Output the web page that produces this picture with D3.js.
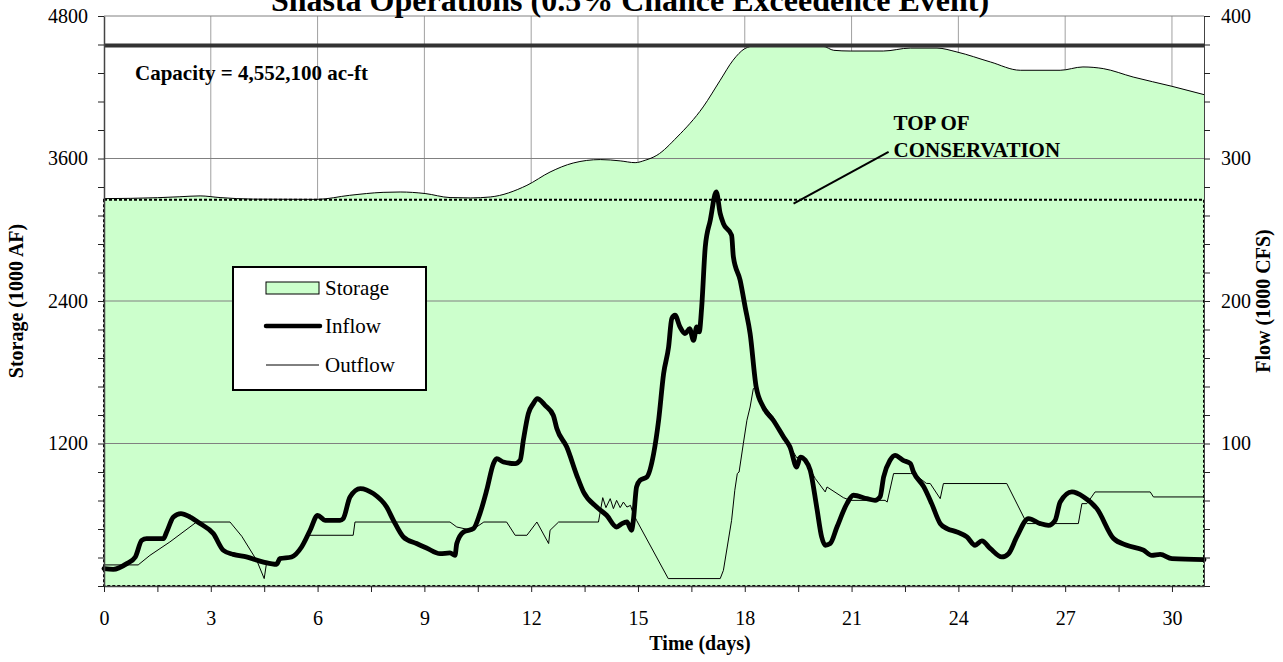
<!DOCTYPE html>
<html><head><meta charset="utf-8">
<script src="https://cdn.jsdelivr.net/npm/d3@7"></script>
<style>
body{margin:0;background:#fff;}
svg{display:block;font-family:"Liberation Serif","Times New Roman",serif;}
</style></head><body>
<svg id="chart" width="1283" height="662"></svg>
<script>
// ---------- DATA ----------
const titleText = "Shasta Operations (0.5% Chance Exceedence Event)";
const capacity = 4552.1;            // 1000 AF
const topOfConservation = 3252.8;   // 1000 AF

const storageDays   = [0,1.5,2.13,2.7,3.26,4.2,5.98,6.9,7.84,8.32,9.02,9.72,10.3,10.85,11.88,12.53,13.18,13.94,14.5,14.92,15.2,15.53,16.1,16.83,17.31,17.67,18.0,18.3,19.0,20.2,20.5,20.96,21.89,22.65,23.4,23.96,24.9,25.74,26.86,27.5,28.07,28.91,30.0,30.9];
const storageValues = [3262,3270,3278,3285,3271,3258,3256,3290,3315,3318,3305,3271,3268,3276,3374,3486,3562,3591,3580,3565,3585,3627,3781,4034,4259,4427,4525,4550,4552,4545,4511,4505,4505,4530,4530,4497,4413,4343,4343,4371,4357,4286,4208,4138];

const inflowDays   = [0,0.26,0.64,0.88,1.06,1.2,1.67,1.76,1.95,2.16,2.42,2.7,3.07,3.35,3.63,4.0,4.48,4.85,4.94,5.27,5.55,5.79,6.0,6.21,6.63,6.72,6.91,7.2,7.57,7.94,8.13,8.41,8.78,9.06,9.44,9.72,9.86,9.91,10.1,10.38,10.56,10.75,10.94,11.03,11.22,11.55,11.69,11.78,11.92,12.06,12.17,12.39,12.62,12.72,13.0,13.28,13.47,13.84,14.12,14.4,14.55,14.69,14.82,14.87,14.96,15.06,15.25,15.44,15.58,15.72,15.86,15.95,16.04,16.18,16.32,16.45,16.56,16.65,16.72,16.79,16.89,17.03,17.2,17.31,17.4,17.63,17.68,17.87,18.01,18.15,18.32,18.52,18.8,19.09,19.27,19.46,19.56,19.7,19.84,20.02,20.16,20.26,20.4,20.59,20.87,21.05,21.43,21.66,21.8,21.9,22.08,22.22,22.45,22.65,22.74,23.03,23.25,23.49,23.68,23.96,24.24,24.47,24.66,24.9,25.22,25.41,25.64,25.97,26.3,26.53,26.72,26.86,27.19,27.52,27.89,28.36,28.73,29.2,29.43,29.67,30.0,30.9];
const inflowValues = [12.2,11.7,15.7,20.4,32,33.3,33.3,37.9,48.4,50.8,48.4,43.8,36.8,25.1,22.2,20.4,16.8,15.2,19.2,20.4,27.4,39.1,49.6,46.1,46.1,47.3,62.5,68.4,64.8,55.4,46.1,34.4,29.8,26.7,22.7,23.2,21.5,29.8,37.9,40.3,50.8,67.2,85.9,89.4,87,85.9,88.2,102.3,121,128,131.5,126.8,119.8,110.5,97.5,77.7,66,55.4,49.6,41.4,43.8,44.9,39.1,46.1,69.5,74.2,76.5,92.9,116.3,149,167.7,187.7,190,181.8,177.1,180.6,172.4,181.8,178.3,195.8,237.9,256.6,276.5,261.3,254.3,246.1,230.9,214.5,195.8,177.1,139.7,125.6,116.3,104.6,97.5,83.5,90.5,88.2,81.2,55.4,34.4,28.6,29.8,41.4,57.8,63.7,61.3,60.1,62.5,76.5,88.2,91.7,88.2,85.9,80,69.5,57.8,43.8,40.3,37.9,34.4,28.6,31.6,26.2,20.4,22.7,34.4,47.3,43.8,42.6,46.1,58.9,66,62.5,54.3,33.3,28.6,25.1,21.5,22.2,19.2,18.5];

const outflowDays   = [0,0.96,1.29,1.85,2.6,3.54,3.87,4.29,4.5,4.57,4.85,4.94,5.27,5.55,5.72,7.0,7.05,9.72,9.91,10.2,10.4,10.67,11.31,11.55,11.88,12.16,12.49,12.53,12.77,13.89,14.01,14.1,14.22,14.31,14.4,14.5,14.59,14.69,14.79,14.85,14.96,15.85,17.31,17.4,17.63,17.72,17.79,17.84,17.96,18.06,18.15,18.24,18.32,18.52,18.8,19.09,19.27,19.46,19.56,19.7,19.84,19.98,20.26,20.31,20.77,20.96,21.94,22.0,22.18,22.65,22.75,23.1,23.21,23.49,23.58,25.36,25.88,25.93,27.37,27.47,27.61,27.84,29.39,29.48,30.9];
const outflowValues = [14.8,14.8,21.5,30.9,44.9,44.9,34.9,18,5.2,16.8,15.2,19.2,20.4,27.4,35.6,35.6,44.9,44.9,41.4,39.8,40.3,44.9,44.9,35.6,35.6,44.9,29.8,39.1,44.9,44.9,62,55,61.3,54.3,60.1,55,58.9,55.4,56.6,51.9,46.1,5.2,5.2,11,46.1,67.2,78.9,80,100,116.3,125.6,138.5,139.7,127,118.6,105,98,90,91,88.5,82,75.4,66,69.5,62,60.1,60.1,58.9,78.9,78.9,78.9,72,71.9,61.3,71.9,71.9,46.1,43.8,43.8,57.8,57.8,66,66,62.5,62.5];

const storageTicks = d3.range(0, 4801, 240);
const storageLabels = [1200, 2400, 3600, 4800];
const flowTicks = d3.range(0, 401, 20);
const flowLabels = [100, 200, 300, 400];
const dayTicks = d3.range(0, 30.01, 1.5);
const dayLabels = [0,3,6,9,12,15,18,21,24,27,30];
const legendItems = ["Storage", "Inflow", "Outflow"];

// ---------- LAYOUT ----------
const L = 104, R = 1204, T = 16, B = 586;
const svg = d3.select("#chart");
const x = d3.scaleLinear().domain([0, 30.9]).range([L, R]);
const yS = d3.scaleLinear().domain([0, 4800]).range([B, T]);
const yF = d3.scaleLinear().domain([0, 400]).range([B, T]);
const green = "#CCFFCC";
const serif = "Liberation Serif";

// background
svg.append("rect").attr("x", L).attr("y", T).attr("width", R - L).attr("height", B - T).attr("fill", "#fff");

// vertical grid
svg.append("g").selectAll("line").data(dayLabels.filter(d => d > 0)).join("line")
  .attr("x1", d => x(d)).attr("x2", d => x(d)).attr("y1", T).attr("y2", B)
  .attr("stroke", "#a0a0a0").attr("stroke-width", 1);

// storage area
const storageData = storageDays.map((d, i) => [d, storageValues[i]]);
svg.append("path").datum(storageData)
  .attr("d", d3.area().x(d => x(d[0])).y0(yS(0)).y1(d => yS(d[1])).curve(d3.curveMonotoneX))
  .attr("fill", green);

// conservation area fill
svg.append("rect").attr("x", x(0)).attr("y", yS(topOfConservation))
  .attr("width", x(30.9) - x(0)).attr("height", yS(0) - yS(topOfConservation)).attr("fill", green);

// horizontal grid
svg.append("g").selectAll("line").data([1200, 2400, 3600, 4800]).join("line")
  .attr("x1", L).attr("x2", R).attr("y1", d => yS(d)).attr("y2", d => yS(d))
  .attr("stroke", "#808080").attr("stroke-width", 1);

// storage line
svg.append("path").datum(storageData)
  .attr("d", d3.line().x(d => x(d[0])).y(d => yS(d[1])).curve(d3.curveMonotoneX))
  .attr("fill", "none").attr("stroke", "#000").attr("stroke-width", 1);

// conservation dashed border
svg.append("rect").attr("x", x(0)).attr("y", yS(topOfConservation))
  .attr("width", x(30.9) - x(0)).attr("height", yS(0) - yS(topOfConservation))
  .attr("fill", "none").attr("stroke", "#000").attr("stroke-width", 2).attr("stroke-dasharray", "3,2");

// capacity line
svg.append("line").attr("x1", x(0)).attr("x2", x(30.9)).attr("y1", yS(capacity)).attr("y2", yS(capacity))
  .attr("stroke", "#333").attr("stroke-width", 4);

// outflow & inflow
const outData = outflowDays.map((d, i) => [d, outflowValues[i]]);
const inData = inflowDays.map((d, i) => [d, inflowValues[i]]);
const lineF = d3.line().x(d => x(d[0])).y(d => yF(d[1]));
svg.append("path").datum(outData).attr("d", lineF).attr("fill", "none").attr("stroke", "#000").attr("stroke-width", 1);
svg.append("path").datum(inData).attr("d", lineF.curve(d3.curveMonotoneX)).attr("fill", "none").attr("stroke", "#000")
  .attr("stroke-width", 4.8).attr("stroke-linejoin", "round").attr("stroke-linecap", "round");

// axes
function styleAxis(g) {
  g.attr("font-family", serif).attr("font-size", 20);
  g.selectAll(".tick line").attr("stroke", "#222");
  g.select(".domain").attr("stroke", "#444").attr("stroke-width", 1.5);
  g.selectAll("text").attr("font-size", 20).attr("font-family", serif).attr("fill", "#000");
}
const gL = svg.append("g").attr("transform", `translate(${L},0)`)
  .call(d3.axisLeft(yS).tickValues(storageTicks).tickSize(6).tickSizeOuter(0).tickPadding(10)
    .tickFormat(d => storageLabels.includes(d) ? d : ""));
styleAxis(gL);
const gR = svg.append("g").attr("transform", `translate(${R},0)`)
  .call(d3.axisRight(yF).tickValues(flowTicks).tickSize(6).tickSizeOuter(0).tickPadding(11)
    .tickFormat(d => flowLabels.includes(d) ? d : ""));
styleAxis(gR);
gR.select(".domain").attr("stroke-width", 1);
const gB = svg.append("g").attr("transform", `translate(0,${B})`)
  .call(d3.axisBottom(x).tickValues(dayTicks).tickSize(6).tickSizeOuter(0)
    .tickFormat(d => dayLabels.includes(d) ? d : ""));
styleAxis(gB);
gB.selectAll("text").attr("dy", null).attr("y", 39);

// axis titles
svg.append("text").attr("x", 700).attr("y", 650).attr("text-anchor", "middle")
  .attr("font-size", 20).attr("font-weight", "bold").text("Time (days)");
svg.append("text").attr("transform", `translate(23,${(T + B) / 2}) rotate(-90)`).attr("text-anchor", "middle")
  .attr("font-size", 20).attr("font-weight", "bold").text("Storage (1000 AF)");
svg.append("text").attr("transform", `translate(1270,${(T + B) / 2}) rotate(-90)`).attr("text-anchor", "middle")
  .attr("font-size", 20).attr("font-weight", "bold").text("Flow (1000 CFS)");

// title (cropped at the top edge, as in the reference)
svg.append("text").attr("x", 630).attr("y", 11).attr("text-anchor", "middle")
  .attr("font-size", 32).attr("font-weight", "bold").text(titleText);

// annotations
svg.append("text").attr("x", x(0.87)).attr("y", yS(4259)).attr("font-size", 21).attr("font-weight", "bold")
  .text("Capacity = 4,552,100 ac-ft");
svg.append("text").attr("x", x(22.18)).attr("y", yS(3843)).attr("font-size", 21).attr("font-weight", "bold").text("TOP OF");
svg.append("text").attr("x", x(22.18)).attr("y", yS(3613)).attr("font-size", 21).attr("font-weight", "bold").text("CONSERVATION");
svg.append("line").attr("x1", x(22.04)).attr("y1", yS(3655)).attr("x2", x(19.37)).attr("y2", yS(3220))
  .attr("stroke", "#000").attr("stroke-width", 2);

// legend
const lg = svg.append("g");
lg.append("rect").attr("x", 233).attr("y", 267).attr("width", 193).attr("height", 123)
  .attr("fill", "#fff").attr("stroke", "#000").attr("stroke-width", 2);
const rowY = [288, 326, 365];
lg.append("rect").attr("x", 266).attr("y", rowY[0] - 6).attr("width", 53).attr("height", 12)
  .attr("fill", green).attr("stroke", "#000").attr("stroke-width", 1);
lg.append("line").attr("x1", 266).attr("x2", 320).attr("y1", rowY[1]).attr("y2", rowY[1])
  .attr("stroke", "#000").attr("stroke-width", 4.5).attr("stroke-linecap", "round");
lg.append("line").attr("x1", 266).attr("x2", 319).attr("y1", rowY[2]).attr("y2", rowY[2])
  .attr("stroke", "#000").attr("stroke-width", 1);
lg.selectAll("text.lt").data(legendItems).join("text").attr("class", "lt")
  .attr("x", 325).attr("y", (d, i) => rowY[i] + 7).attr("font-size", 21).text(d => d);
</script>
</body></html>
